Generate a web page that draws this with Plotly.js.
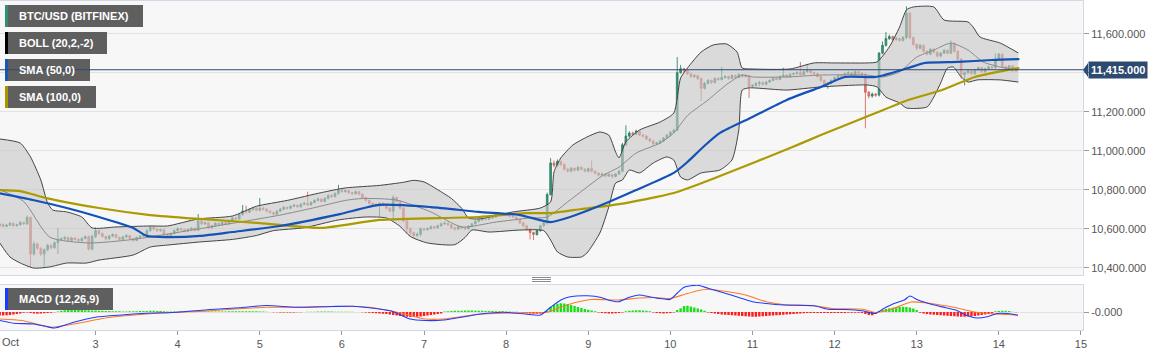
<!DOCTYPE html>
<html><head><meta charset="utf-8">
<script src="https://cdn.plot.ly/plotly-3.0.1.min.js"></script>
<style>html,body{margin:0;padding:0;background:#fff;}#chart{width:1166px;height:355px;}</style>
</head><body><div id="chart"></div>
<script>
// ---------- DATA (hourly candles, hour 0 = Oct 1 20:00) ----------
const firstOpen = 10615;
const closeV = [
10622,10612,10618,10628,10615,10620,10632,10625,10658,10470,
10522,10500,10470,10492,10515,10502,10528,10545,10548,10555,
10540,10552,10545,10538,10550,10560,10495,10560,10590,10575,
10560,10548,10562,10570,10555,10545,10558,10565,10550,10540,
10555,10562,10568,10590,10608,10598,10590,10595,10570,10562,
10575,10590,10600,10595,10588,10596,10602,10592,10640,10625,
10630,10605,10615,10628,10620,10632,10625,10640,10655,10650,
10672,10690,10685,10698,10705,10695,10705,10700,10690,10682,
10675,10690,10700,10710,10705,10715,10720,10712,10725,10730,
10722,10735,10745,10752,10740,10755,10770,10765,10780,10798,
10790,10795,10785,10780,10790,10778,10760,10745,10730,10725,
10718,10730,10722,10705,10690,10760,10740,10705,10640,10600,
10580,10565,10572,10600,10595,10600,10610,10605,10615,10625,
10628,10620,10605,10598,10610,10605,10600,10612,10625,10638,
10645,10650,10648,10655,10660,10672,10668,10675,10670,10665,
10660,10648,10630,10615,10598,10580,10570,10590,10615,10630,
10775,10937,10925,10945,10930,10905,10895,10910,10900,10915,
10905,10895,10908,10895,10885,10875,10880,10870,10878,10868,
10880,10895,11030,11075,11090,11085,11100,11080,11075,11060,
11050,11035,11040,11050,11065,11080,11095,11105,11400,11420,
11410,11395,11380,11385,11370,11320,11345,11360,11350,11370,
11365,11375,11380,11370,11385,11375,11390,11380,11385,11330,
11335,11345,11350,11340,11352,11360,11372,11365,11380,11388,
11378,11392,11395,11400,11390,11405,11410,11400,11395,11380,
11360,11340,11345,11360,11375,11385,11380,11395,11400,11390,
11405,11398,11392,11300,11280,11290,11285,11500,11540,11575,
11585,11570,11575,11565,11580,11705,11580,11545,11525,11540,
11510,11495,11520,11505,11485,11500,11515,11500,11550,11510,
11470,11390,11400,11410,11395,11415,11425,11405,11420,11430,
11425,11470,11495,11430,11420,11435,11410,11415];
const highV = [
10630,10628,10625,10635,10632,10626,10640,10636,10668,10662,
10535,10528,10505,10498,10522,10520,10535,10605,10556,10562,
10560,10558,10556,10550,10556,10566,10565,10570,10606,10594,
10580,10565,10568,10576,10574,10560,10563,10572,10568,10554,
10560,10568,10575,10598,10615,10612,10602,10600,10598,10575,
10580,10596,10606,10605,10600,10602,10608,10606,10675,10645,
10636,10634,10620,10633,10632,10638,10636,10646,10662,10660,
10678,10722,10718,10704,10712,10710,10757,10712,10705,10695,
10688,10695,10706,10716,10714,10720,10728,10725,10730,10738,
10790,10740,10750,10760,10756,10762,10776,10778,10786,10825,
10805,10802,10800,10790,10796,10794,10782,10764,10750,10736,
10732,10735,10736,10726,10710,10772,10764,10745,10710,10645,
10606,10585,10580,10606,10604,10606,10616,10614,10620,10632,
10636,10632,10624,10610,10616,10614,10610,10618,10630,10644,
10652,10656,10656,10662,10666,10678,10676,10682,10680,10674,
10670,10664,10652,10635,10620,10602,10585,10595,10620,10636,
10785,10962,10950,10955,10950,10935,10912,10916,10914,10922,
10920,10910,10914,10950,10900,10890,10886,10885,10884,10882,
10886,10902,11040,11130,11100,11098,11108,11104,11086,11080,
11066,11054,11046,11056,11070,11086,11100,11112,11480,11440,
11425,11415,11400,11392,11390,11376,11352,11368,11365,11376,
11378,11430,11388,11385,11392,11390,11398,11394,11392,11390,
11342,11352,11358,11355,11358,11366,11378,11376,11386,11425,
11392,11398,11402,11408,11455,11412,11445,11415,11405,11400,
11385,11365,11352,11366,11380,11392,11390,11402,11408,11405,
11412,11410,11402,11398,11305,11298,11296,11506,11560,11608,
11595,11590,11584,11580,11588,11740,11712,11585,11550,11548,
11545,11515,11526,11525,11510,11506,11522,11520,11565,11555,
11515,11475,11408,11416,11414,11420,11432,11430,11426,11436,
11436,11500,11502,11498,11436,11440,11438,11420];
const lowV = [
10610,10605,10608,10614,10610,10611,10616,10620,10620,10405,
10462,10490,10460,10405,10485,10495,10498,10470,10538,10542,
10535,10536,10540,10532,10533,10545,10488,10490,10552,10568,
10554,10540,10544,10556,10550,10538,10540,10552,10545,10532,
10536,10550,10557,10564,10585,10592,10584,10585,10562,10555,
10558,10570,10586,10590,10582,10584,10591,10586,10588,10618,
10620,10598,10600,10610,10614,10616,10620,10620,10636,10644,
10646,10668,10678,10680,10692,10688,10690,10694,10684,10676,
10668,10670,10686,10695,10698,10700,10710,10706,10708,10720,
10716,10718,10730,10740,10734,10736,10750,10758,10760,10775,
10784,10785,10778,10772,10775,10770,10754,10740,10724,10718,
10710,10660,10715,10698,10684,10645,10735,10698,10632,10575,
10562,10552,10558,10560,10588,10590,10596,10598,10600,10610,
10620,10614,10598,10590,10594,10598,10594,10596,10608,10620,
10632,10640,10642,10644,10650,10655,10662,10664,10664,10658,
10654,10642,10624,10608,10590,10545,10542,10565,10585,10610,
10620,10770,10915,10918,10920,10898,10888,10890,10894,10896,
10898,10888,10890,10888,10878,10868,10870,10864,10865,10858,
10864,10876,10890,11025,11068,11078,11080,11074,11068,11054,
11044,11028,11030,11036,11046,11060,11075,11090,11100,11395,
11400,11388,11372,11374,11362,11255,11314,11340,11342,11345,
11358,11360,11370,11364,11366,11370,11372,11374,11376,11270,
11322,11330,11330,11334,11336,11348,11356,11360,11362,11376,
11372,11374,11386,11390,11385,11386,11400,11394,11388,11374,
11352,11332,11318,11340,11355,11370,11374,11376,11390,11384,
11386,11392,11386,11115,11268,11272,11276,11278,11495,11535,
11568,11562,11564,11558,11560,11572,11570,11538,11515,11520,
11502,11488,11490,11498,11478,11480,11496,11494,11496,11504,
11462,11370,11335,11394,11388,11390,11410,11398,11400,11415,
11418,11420,11465,11424,11412,11414,11402,11405];

// Bollinger (20,2): hour offsets and values
const bollUpT = [0,6,9,12,14,15.5,19.6,24,27,34,44,49,58,68,75,84,94,101,111,118,121,124,128,132,135,137,140,150,158,161,162,164,167.5,171.6,175.4,178,180,181,183,187,193,197,199,201,205,208.5,212.5,215.5,217,220,231,238,243.6,253.5,256.4,260,263,265,267,273,276,283,284.5,286.5,292.4,297.7];
const bollUp  = [11060,11039,10968,10850,10732,10696,10686,10660,10604,10609,10614,10614,10650,10665,10715,10745,10785,10809,10822,10838,10848,10840,10800,10755,10705,10655,10650,10686,10706,10737,10891,10963,11029,11070,11096,11080,10993,10963,11045,11106,11147,11193,11373,11424,11506,11542,11547,11506,11424,11419,11419,11450,11450,11450,11455,11532,11634,11722,11737,11737,11670,11660,11634,11583,11552,11501];
const bollLoT = [0,3,6,10,14.6,19.6,25.4,29,39,44,49,58.5,68,75,80,89,99,107,113,117,120,125,133,136,138,143,152,159,161,163,166,170,171.6,175.4,178,180,182,184,187,191,195,197,199,201,205,210.5,214,216,217,219,230,240,253.5,256.4,259,263,265,271,273,275,277,278.7,281,283,285.7,292.4,297.7];
const bollLo  = [10527,10455,10424,10398,10404,10424,10424,10439,10465,10506,10516,10532,10545,10565,10590,10605,10645,10660,10655,10612,10560,10527,10518,10555,10593,10583,10593,10590,10542,10481,10455,10455,10475,10578,10711,10834,10850,10901,10886,10937,10968,10952,10865,10850,10886,10901,10952,11106,11311,11322,11311,11327,11337,11327,11275,11245,11219,11224,11275,11347,11424,11429,11378,11352,11363,11363,11352];
const bollMidT = [0,7,14.6,26,39,58.5,82,91.5,101,106,116,126,135,145,155,160,166.7,176,181,186,193,197,201,207,212.5,217,220,230,240,253.5,258,263,268,273,278,283,287.4,292.4,297.7];
const bollMid  = [10800,10740,10557,10527,10545,10600,10670,10706,10745,10755,10747,10686,10609,10634,10655,10660,10747,10870,10916,10988,11039,11091,11180,11260,11340,11388,11378,11378,11388,11388,11378,11404,11480,11516,11552,11516,11455,11429,11414];

// SMA 50 / SMA 100
const sma50T = [0,9.7,19.6,29,39,43,49,58.5,68,82,99.4,111,126,140,152,161,166.7,178,186,197,201,205.6,210.5,220,230,240,247,256,265.5,270.5,280,290,298];
const sma50  = [10781,10747,10706,10660,10604,10563,10557,10563,10583,10614,10675,10722,10711,10686,10670,10634,10660,10737,10798,10886,10942,11019,11091,11173,11260,11327,11378,11378,11424,11450,11455,11465,11470];
const sma100T = [0,6,13.7,29,44,58.5,76,94,111,140,153.5,161,170,181,197,210.5,231,240,256,265.5,275.4,285,294.7,298];
const sma100  = [10798,10793,10757,10706,10670,10650,10629,10604,10645,10660,10680,10680,10701,10726,10783,10870,11014,11080,11193,11260,11311,11378,11414,11424];

// MACD (12,26,9)
const macdT = [0,4,10,14,16,21.6,28,35.7,43,52,60.6,70,78,86.5,97,103,108,114.7,120,124.4,129.8,140.6,147,153.6,158,161,164,166.7,171.8,175.8,177.8,180.8,183.8,186.9,189.9,192.9,195.9,198,200,204,207,212,216,220,224,229,238,242,247,252,255.8,258.4,261.4,264.4,266,268.4,272.5,276.5,279.5,282.5,285.6,288.6,291.6,294.6,297.6];
const macdV = [-34,-45,-48,-59,-64,-41,-21,-12,-5,-1,9,17,26,19,22,23,17,3,-28,-34,-32,-8,-1,-8,-12,19,48,61,65,58,48,41,58,68,61,54,50,75,99,107,95,75,58,41,34,28,25,11,10,5,-6,14,34,48,64,48,30,17,7,-13,-24,-19,-6,-6,-13];
const signalT = [0,6.5,15,21.6,32.4,43,52,59.5,70,78,86.5,103,108,116.8,124.4,129.8,140.6,151.4,160,163.7,167.7,172.8,180.8,186.9,191.9,195.9,200,204,207,218,224,229,238,243.3,252.3,255.8,260.4,266.4,270.4,279.5,284.5,288.6,294.6,297.6];
const signalV = [-28,-34,-61,-48,-21,-8,-1,3,13,19,19,23,19,-3,-28,-28,-8,-3,-1,18,36,50,48,56,58,54,70,85,91,68,41,30,25,14,11,-2,10,40,37,17,1,-6,-10,-13];
const histV = [
-14,-14,-13,-12,-10,-8,-6,-3,-2,
-4,-6,-7,-6,-5,-4,-3,-1,
2,5,7,8,9,9,8,8,7,7,6,6,5,5,4,4,
3,3,3,2,2,3,3,3,4,4,
4,5,5,4,4,3,
2,2,2,2,3,
3,3,3,3,3,2,2,
2,2,2,2,2,2,3,3,3,
3,3,3,3,3,3,2,2,1,
0,-1,-1,-2,-2,-2,-2,-2,-1,-1,0,1,1,
1,2,2,2,2,2,1,1,1,1,1,1,0,0,
-1,-2,-3,-4,-5,-6,-7,-8,-10,
-12,-14,-16,-18,-19,-20,-20,-19,-18,-16,-14,-12,-10,-8,-6,
2,3,4,5,5,5,6,6,6,5,5,5,4,4,4,3,3,3,2,2,1,1,0,
-3,-5,-6,-7,-7,-6,-4,5,
20,28,33,35,34,32,28,24,20,16,12,9,6,3,
-2,-4,-5,-6,-6,-5,-4,-2,
3,5,6,7,7,6,5,3,
-2,-4,-5,-6,-5,-4,-2,
8,15,24,25,22,18,14,10,5,
-2,-4,-6,-8,-10,-11,-12,-13,-14,-15,-16,-17,-18,-19,-19,-18,-17,-16,-15,-14,-13,-12,-11,-10,-9,-8,-7,-6,-5,-4,
-4,-4,-4,-4,-4,-4,-4,-4,-4,-4,-4,-3,-3,-3,-3,-4,-8,
-12,-13,-8,
4,8,12,15,17,19,20,21,20,18,14,8,
-3,-6,-8,-10,-11,-12,-13,-14,-15,-16,-17,-18,-19,-19,-18,-17,-16,-14,-12,-10,-8,-5,
3,4,5,5,4,
1,-1];

const lastPrice = 11415;
const yTickVals = [10400,10600,10800,11000,11200,11400,11600];
const yTickText = ['10,400.000','10,600.000','10,800.000','11,000.000','11,200.000','','11,600.000'];
const xTickDays = [3,4,5,6,7,8,9,10,11,12,13,14,15];
const xTickText = ['3','4','5','6','7','8','9','10','11','12','13','14','15'];

// ---------- helpers ----------
const T0 = Date.UTC(2020, 9, 1, 20, 0, 0);
function hd(h){ return new Date(T0 + h*3600000).toISOString().slice(0,19).replace('T',' '); }
function dayDate(d){ return new Date(Date.UTC(2020, 9, d, 0, 0, 0)).toISOString().slice(0,19).replace('T',' '); }

const W = 1166, H = 355, ML = 0, MR = 83, MT = 1, MB = 25;
const PW = W - ML - MR, PH = H - MT - MB;
const px = x => (x - ML) / PW;
const py = y => (H - MB - y) / PH;

const candleX = closeV.map((_, i) => hd(i));
const openV = [firstOpen].concat(closeV.slice(0, -1));

const FONT = 'Liberation Sans, Arial, sans-serif';

const traces = [
  {type:'scatter', mode:'lines', x: bollLoT.map(hd), y: bollLo, line:{color:'#444', width:1, shape:'spline', smoothing:0.6}, hoverinfo:'skip', xaxis:'x', yaxis:'y'},
  {type:'scatter', mode:'lines', x: bollUpT.map(hd), y: bollUp, line:{color:'#444', width:1, shape:'spline', smoothing:0.6}, fill:'tonexty', fillcolor:'rgba(200,200,200,0.62)', hoverinfo:'skip', xaxis:'x', yaxis:'y'},
  {type:'scatter', mode:'lines', x: bollMidT.map(hd), y: bollMid, line:{color:'#8a8a8a', width:1, shape:'spline', smoothing:0.6}, hoverinfo:'skip', xaxis:'x', yaxis:'y'},
  {type:'scatter', mode:'lines', x: sma100T.map(hd), y: sma100, line:{color:'#ab9a00', width:2.2, shape:'spline', smoothing:0.6}, hoverinfo:'skip', xaxis:'x', yaxis:'y'},
  {type:'scatter', mode:'lines', x: sma50T.map(hd), y: sma50, line:{color:'#1452b8', width:2.2, shape:'spline', smoothing:0.6}, hoverinfo:'skip', xaxis:'x', yaxis:'y'},
  {type:'candlestick', x: candleX, open: openV, high: highV, low: lowV, close: closeV,
   increasing:{line:{color:'rgba(38,128,100,0.85)', width:1}, fillcolor:'rgba(38,128,100,0.85)'},
   decreasing:{line:{color:'rgba(214,100,88,0.85)', width:1}, fillcolor:'rgba(214,100,88,0.85)'},
   whiskerwidth:0, hoverinfo:'skip', xaxis:'x', yaxis:'y'},
  {type:'bar', x: candleX, y: histV, marker:{color: histV.map(v => v >= 0 ? '#18e018' : '#ff1c1c')}, hoverinfo:'skip', xaxis:'x2', yaxis:'y2'},
  {type:'scatter', mode:'lines', x: signalT.map(hd), y: signalV, line:{color:'#ff7a22', width:1.1, shape:'spline', smoothing:0.6}, hoverinfo:'skip', xaxis:'x2', yaxis:'y2'},
  {type:'scatter', mode:'lines', x: macdT.map(hd), y: macdV, line:{color:'#1f3cff', width:1.1, shape:'spline', smoothing:0.6}, hoverinfo:'skip', xaxis:'x2', yaxis:'y2'}
];

const xr = [hd(0.08), hd(316.6)];
const border = '#d2d8e8';

const boxes = [
  {x0:5, x1:143, y0:5,  y1:27, stripe:'#2e8f76', text:'BTC/USD (BITFINEX)'},
  {x0:5, x1:107, y0:32, y1:54, stripe:'#000000', text:'BOLL (20,2,-2)'},
  {x0:5, x1:90,  y0:59, y1:81, stripe:'#1b55b5', text:'SMA (50,0)'},
  {x0:5, x1:96,  y0:86, y1:108, stripe:'#a89500', text:'SMA (100,0)'},
  {x0:5, x1:113, y0:288, y1:310, stripe:'#1a3cff', text:'MACD (12,26,9)'}
];

const shapes = [];
const annotations = [];
boxes.forEach(b => {
  shapes.push({type:'rect', xref:'paper', yref:'paper', x0:px(b.x0), x1:px(b.x1), y0:py(b.y1), y1:py(b.y0), fillcolor:'#5f5f5f', line:{width:0}, layer:'above'});
  shapes.push({type:'rect', xref:'paper', yref:'paper', x0:px(b.x0), x1:px(b.x0+3), y0:py(b.y1), y1:py(b.y0), fillcolor:b.stripe, line:{width:0}, layer:'above'});
  annotations.push({xref:'paper', yref:'paper', x:px(b.x0+12), y:py((b.y0+b.y1)/2), xanchor:'left', yanchor:'middle', text:'<b>'+b.text+'</b>', showarrow:false, font:{family:FONT, size:11, color:'#ffffff'}});
});
// price line
shapes.push({type:'line', xref:'paper', yref:'y', x0:0, x1:1, y0:lastPrice, y1:lastPrice, line:{color:'#2b4870', width:1}, layer:'above'});
// price label pointer
shapes.push({type:'path', xref:'paper', yref:'paper', path:`M ${px(1083)} ${py(70)} L ${px(1088)} ${py(63)} L ${px(1088)} ${py(77)} Z`, fillcolor:'#2d4a70', line:{width:0}});
annotations.push({xref:'paper', yref:'y', x:px(1088), y:lastPrice, xanchor:'left', yanchor:'middle', text:'<b>11,415.000</b>', showarrow:false, bgcolor:'#2d4a70', borderpad:2, font:{family:FONT, size:11, color:'#ffffff'}});
// grip between panels
[277.5, 279.5, 281.5].forEach(y => shapes.push({type:'line', xref:'paper', yref:'paper', x0:px(532), x1:px(551), y0:py(y), y1:py(y), line:{color:'#8c8c8c', width:1}}));
// "Oct" label
annotations.push({xref:'paper', yref:'paper', x:0, y:py(342), xanchor:'left', yanchor:'middle', text:'Oct', showarrow:false, font:{family:FONT, size:11, color:'#555'}});

const layout = {
  width:W, height:H, margin:{l:ML, r:MR, t:MT, b:MB},
  paper_bgcolor:'#ffffff', plot_bgcolor:'#f7f7f7', showlegend:false, bargap:0.3,
  font:{family:FONT, size:11, color:'#555'},
  xaxis:{type:'date', range:xr, domain:[0,1], anchor:'y', showticklabels:false, showgrid:false, ticks:'', showline:true, mirror:true, linecolor:border, linewidth:1, rangeslider:{visible:false}, fixedrange:true},
  yaxis:{domain:[py(275), 1], side:'right', range:[10362.6, 11767.6], tickvals:yTickVals, ticktext:yTickText, gridcolor:'#e2e2e2', gridwidth:1, ticks:'outside', ticklen:5, tickcolor:'#9a9a9a', tickfont:{family:FONT, size:11, color:'#555'}, showline:true, mirror:true, linecolor:border, zeroline:false, fixedrange:true},
  xaxis2:{type:'date', range:xr, domain:[0,1], anchor:'y2', tickvals:xTickDays.map(dayDate), ticktext:xTickText, ticks:'outside', ticklen:4, tickcolor:'#9a9a9a', tickfont:{family:FONT, size:11, color:'#555'}, showgrid:false, showline:true, mirror:true, linecolor:border, fixedrange:true},
  yaxis2:{domain:[0, py(285)], side:'right', range:[-72, 108], tickvals:[0], ticktext:['-0.000'], gridcolor:'#e2e2e2', ticks:'outside', ticklen:5, tickcolor:'#9a9a9a', tickfont:{family:FONT, size:11, color:'#555'}, showline:true, mirror:true, linecolor:border, zeroline:false, fixedrange:true},
  shapes:shapes, annotations:annotations
};

Plotly.newPlot('chart', traces, layout, {displayModeBar:false, staticPlot:true});
</script>
</body></html>
